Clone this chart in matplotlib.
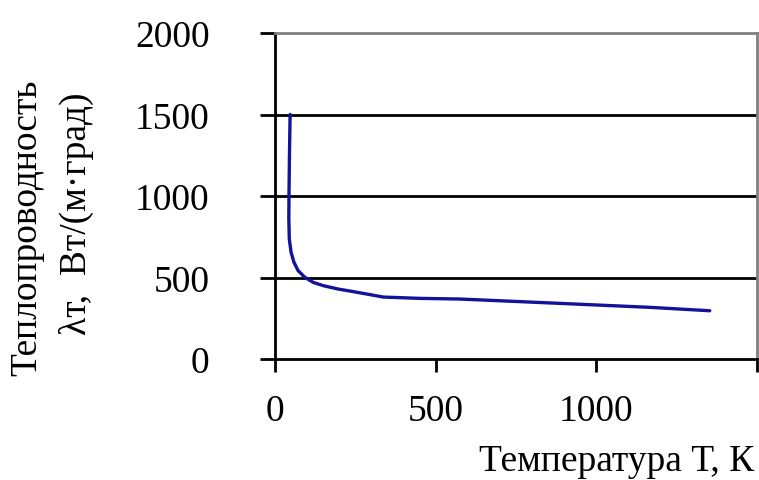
import matplotlib
matplotlib.use("Agg")
import matplotlib.pyplot as plt

# Data
temperature = [47, 45, 43.5, 43, 44.5, 50, 59, 72, 93, 119, 150, 197, 233, 290, 337, 450, 575, 855, 1166, 1353]
conductivity = [1500, 1250, 1000, 860, 736, 655, 593, 542, 501, 470, 450, 429, 417, 397, 380, 372, 368, 344, 317, 296]
x_ticks = [0, 500, 1000, 1500]
x_tick_labels = ["0", "500", "1000", ""]
y_ticks = [0, 500, 1000, 1500, 2000]
y_tick_labels = ["0", "500", "1000", "1500", "2000"]

plt.rcParams['font.family'] = ['Liberation Serif', 'DejaVu Serif']

fig = plt.figure(figsize=(7.59, 4.81), dpi=100)
ax = fig.add_axes([275/759, 1-360/481, (757-275)/759, (360-34)/481])

ax.plot(temperature, conductivity, color='#12129a', lw=2.4, zorder=3,
        solid_joinstyle='round', solid_capstyle='round')

ax.set_xlim(0, 1500)
ax.set_ylim(0, 2000)
ax.set_xticks(x_ticks)
ax.set_xticklabels(x_tick_labels)
ax.set_yticks(y_ticks)
ax.set_yticklabels(y_tick_labels)

for y in [500, 1000, 1500]:
    ax.axhline(y, color='black', lw=2, zorder=1)

ax.spines['left'].set_color('black')
ax.spines['left'].set_linewidth(2)
ax.spines['bottom'].set_color('black')
ax.spines['bottom'].set_linewidth(2)
ax.spines['top'].set_color('#808080')
ax.spines['top'].set_linewidth(2)
ax.spines['right'].set_color('#808080')
ax.spines['right'].set_linewidth(2)

ax.tick_params(axis='y', direction='out', length=11, width=2, labelsize=27, pad=36)
ax.tick_params(axis='x', direction='out', length=9, width=2, labelsize=27, pad=16)

fig.text(27/759, 1-228/481, "Теплопроводность", rotation=90, ha='center', va='center', fontsize=27)
fig.text(76/759, 1-214/481, "λт,  Вт/(м·град)", rotation=90, ha='center', va='center', fontsize=27)
fig.text(617/759, 1-462/481, "Температура Т, К", ha='center', va='center', fontsize=27)

fig.savefig("out.png", dpi=100)
